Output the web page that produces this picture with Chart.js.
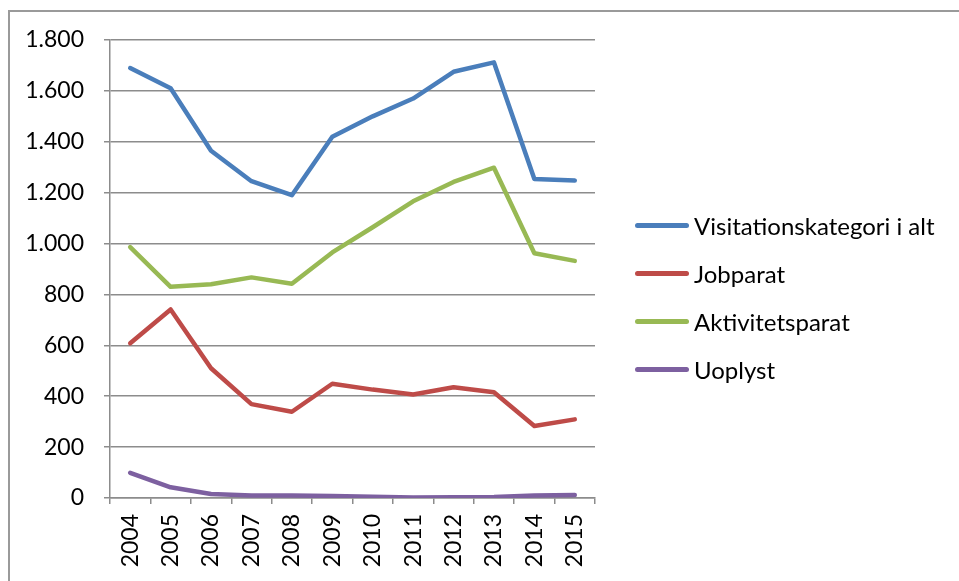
<!DOCTYPE html>
<html>
<head>
<meta charset="utf-8">
<script src="https://cdn.jsdelivr.net/npm/chart.js@4"></script>
<style>
    html, body { margin: 0; padding: 0; background: #fff; overflow: hidden; }
    #wrap { position: relative; width: 959px; height: 581px; }
    #frame { position: absolute; left: 8px; top: 10px; right: 0; bottom: 0;
             border-top: 2px solid #9a9a9a; border-left: 2px solid #9a9a9a; }
    #chart1 { position: absolute; left: 0; top: 0; }
    #legend { position: absolute; left: 635px; top: 201px; font-family: Lato, sans-serif; font-size: 24px; color: #000; }
    .item { display: flex; align-items: center; height: 48px; }
    .swatch { width: 54px; height: 5px; border-radius: 3px; margin-right: 5px; }
</style>
</head>
<body>
<div id="wrap">
    <div id="frame"></div>
    <canvas id="chart1" width="959" height="581"></canvas>
    <div id="legend"></div>
</div>
<script>
const years = ['2004', '2005', '2006', '2007', '2008', '2009', '2010', '2011', '2012', '2013', '2014', '2015'];
const seriesNames = ['Visitationskategori i alt', 'Jobparat', 'Aktivitetsparat', 'Uoplyst'];
const totalValues = [1690, 1610, 1365, 1245, 1190, 1420, 1500, 1570, 1675, 1712, 1254, 1248];
const jobparatValues = [608, 741, 510, 369, 339, 449, 426, 407, 435, 416, 283, 309];
const aktivitetsparatValues = [986, 830, 840, 867, 842, 965, 1064, 1166, 1242, 1298, 962, 932];
const uoplystValues = [99, 42, 16, 10, 10, 8, 5, 2, 3, 4, 10, 12];
const yTickLabels = ['0', '200', '400', '600', '800', '1.000', '1.200', '1.400', '1.600', '1.800'];
const colors = ['#4a7ebb', '#be4b48', '#98b954', '#7d60a0'];

document.addEventListener('DOMContentLoaded', function() {
    const ctx = document.getElementById('chart1').getContext('2d');
    const allValues = [totalValues, jobparatValues, aktivitetsparatValues, uoplystValues];
    const gridColor = '#8c8c8c';
    const tickFont = { family: 'Lato', size: 23 };

    const chart = new Chart(ctx, {
        type: 'line',
        data: {
            labels: years,
            datasets: seriesNames.map((name, i) => ({
                label: name,
                data: allValues[i],
                borderColor: colors[i],
                backgroundColor: colors[i],
                borderWidth: 4.5,
                borderCapStyle: 'round',
                borderJoinStyle: 'round',
                pointRadius: 0,
                tension: 0
            }))
        },
        options: {
            responsive: false,
            animation: false,
            layout: { padding: { left: 0, top: 40, right: 364, bottom: 0 } },
            plugins: {
                legend: { display: false },
                tooltip: { enabled: false }
            },
            scales: {
                x: {
                    offset: true,
                    grid: { offset: true, drawOnChartArea: false, drawTicks: true, tickLength: 6, color: gridColor, lineWidth: 1.5 },
                    border: { display: true, color: gridColor, width: 1.5 },
                    ticks: { minRotation: 90, maxRotation: 90, autoSkip: false, padding: 10, color: '#000', font: tickFont },
                    afterFit: function(scale) { scale.height = 83; }
                },
                y: {
                    min: 0,
                    max: 1800,
                    grid: { color: gridColor, lineWidth: 1.5, drawTicks: true, tickLength: 6 },
                    border: { display: true, color: gridColor, width: 1.5 },
                    ticks: {
                        stepSize: 200,
                        padding: 20,
                        color: '#000',
                        font: tickFont,
                        callback: function(value) { return yTickLabels[Math.round(value / 200)]; }
                    },
                    afterFit: function(scale) { scale.width = 110; }
                }
            }
        }
    });

    // HTML legend built from the chart's own legend items
    const legendEl = document.getElementById('legend');
    chart.options.plugins.legend.labels.generateLabels(chart).forEach(item => {
        const row = document.createElement('div');
        row.className = 'item';
        const sw = document.createElement('span');
        sw.className = 'swatch';
        sw.style.background = item.strokeStyle;
        const txt = document.createElement('span');
        txt.textContent = item.text;
        row.appendChild(sw);
        row.appendChild(txt);
        legendEl.appendChild(row);
    });
});
</script>
</body>
</html>
